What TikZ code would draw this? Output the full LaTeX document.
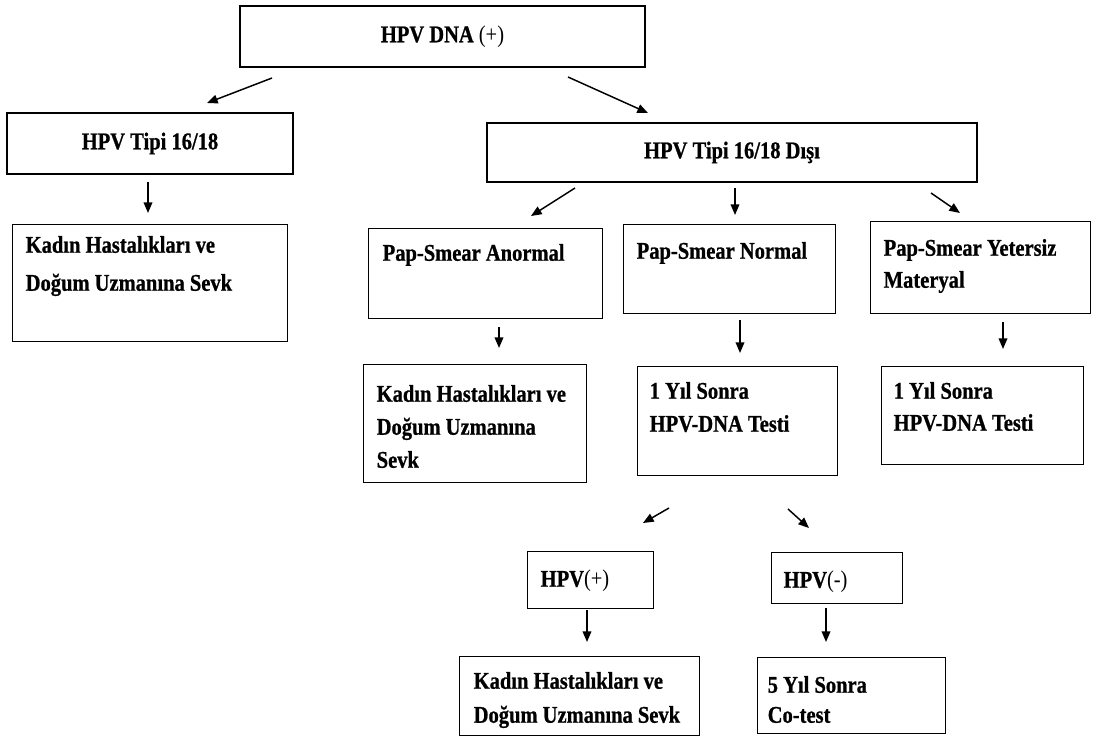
\documentclass[tikz,border=0pt]{standalone}
\usepackage{fontspec}
\setmainfont{Liberation Serif}[FakeStretch=0.855, BoldFeatures={FakeBold=0.8}]
\usetikzlibrary{arrows.meta}
\newdimen\pxu \pxu=0.75pt
% #1 width, #2 height, #3 left pad, #4 first baseline from top, #5 line skip, #6 text (all px)
\newcommand{\tb}[6]{\parbox[t][#2\pxu][t]{#1\pxu}{\raggedright\leftskip=#3\pxu\relax\baselineskip=#5\pxu\relax\rule{0pt}{#4\pxu}#6\par}}
\begin{document}
\begin{tikzpicture}[x=0.75pt,y=-0.75pt,
  every node/.style={font=\fontsize{18pt}{24.75pt}\selectfont\bfseries},
  box/.style={draw, line width=1.1pt, inner sep=0pt, anchor=north west},
  cbox/.style={draw, line width=1.1pt, inner sep=0pt},
  arr/.style={line width=1.1pt, -{Triangle[length=8pt,width=6.5pt]}}]
\useasboundingbox (0,0) rectangle (1096,740);

% boxes
\node[cbox, minimum width=405\pxu, minimum height=61\pxu] (top) at (442.5,36.5) {HPV DNA \mdseries(+)};
\node[cbox, minimum width=286\pxu, minimum height=61\pxu] (t1618) at (150,143.5) {HPV Tipi 16/18};
\node[cbox, minimum width=490\pxu, minimum height=59\pxu] (disi) at (732,152.5) {HPV Tipi 16/18 Dışı};

\node[box] (kadinL) at (12,224) {\tb{275}{117}{13}{28}{38}{Kadın Hastalıkları ve\\Doğum Uzmanına Sevk}};
\node[box] (anormal) at (368,228) {\tb{234}{90}{14}{32}{33}{Pap-Smear Anormal}};
\node[box] (normal) at (623,224) {\tb{212}{89}{13}{34}{33}{Pap-Smear Normal}};
\node[box] (yetersiz) at (870,221) {\tb{220}{92}{13}{34}{32}{Pap-Smear Yetersiz\\Materyal}};

\node[box] (kadinM) at (363,364) {\tb{223}{118}{13}{37}{33}{Kadın Hastalıkları ve\\Doğum Uzmanına\\Sevk}};
\node[box] (yilM) at (637,366) {\tb{200}{109}{12}{32}{33}{1 Yıl Sonra\\HPV-DNA Testi}};
\node[box] (yilR) at (881,366) {\tb{202}{98}{12}{32}{32}{1 Yıl Sonra\\HPV-DNA Testi}};

\node[box] (hpvp) at (527,551) {\tb{126}{57}{13}{35}{32}{HPV\mdseries(+)}};
\node[box] (hpvm) at (771,552) {\tb{131}{51}{12}{35}{32}{HPV\mdseries(-)}};

\node[box] (kadinB) at (459,656) {\tb{240}{79}{14}{32}{34}{Kadın Hastalıkları ve\\Doğum Uzmanına Sevk}};
\node[box] (cotest) at (757,657) {\tb{188}{76}{10}{35}{30}{5 Yıl Sonra\\Co-test}};

% connector end points (arrows float between the boxes)
\coordinate (a1s) at (272,78);  \coordinate (a1e) at (207,103);
\coordinate (a2s) at (568,77);  \coordinate (a2e) at (648,113);
\coordinate (a3s) at (148,182); \coordinate (a3e) at (148,213);
\coordinate (a4s) at (575,188); \coordinate (a4e) at (531,216);
\coordinate (a5s) at (735,188); \coordinate (a5e) at (735,215);
\coordinate (a6s) at (931,193); \coordinate (a6e) at (960,213);
\coordinate (a7s) at (499,327); \coordinate (a7e) at (499,348);
\coordinate (a8s) at (740,320); \coordinate (a8e) at (740,353);
\coordinate (a9s) at (1003,322); \coordinate (a9e) at (1003,349);
\coordinate (a10s) at (669,508); \coordinate (a10e) at (643,523);
\coordinate (a11s) at (788,509); \coordinate (a11e) at (809,528);
\coordinate (a12s) at (587,610); \coordinate (a12e) at (587,642);
\coordinate (a13s) at (826,608); \coordinate (a13e) at (826,642);

\foreach \i in {1,...,13} {\draw[arr] (a\i s) -- (a\i e);}
\end{tikzpicture}
\end{document}
